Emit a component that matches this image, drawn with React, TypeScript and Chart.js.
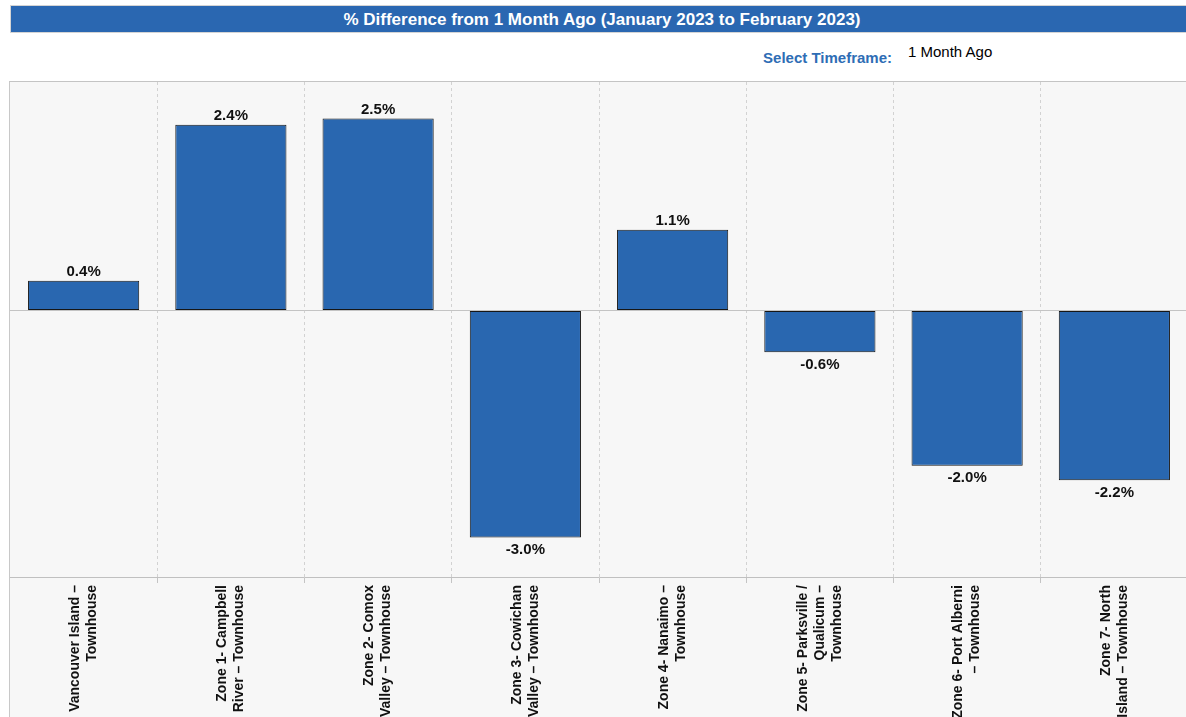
import React, { useEffect, useRef } from "react";
import { Chart, registerables } from "chart.js";

Chart.register(...registerables);

const categories: string[][] = [
  ["Vancouver Island –", "Townhouse"],
  ["Zone 1- Campbell", "River – Townhouse"],
  ["Zone 2- Comox", "Valley – Townhouse"],
  ["Zone 3- Cowichan", "Valley – Townhouse"],
  ["Zone 4- Nanaimo –", "Townhouse"],
  ["Zone 5- Parksville /", "Qualicum –", "Townhouse"],
  ["Zone 6- Port Alberni", "– Townhouse"],
  ["Zone 7- North", "Island – Townhouse"],
];

const values: number[] = [0.39, 2.44, 2.52, -2.98, 1.06, -0.55, -2.04, -2.23];

const titleText = "% Difference from 1 Month Ago (January 2023 to February 2023)";
const selectLabel = "Select Timeframe:";
const selectValue = "1 Month Ago";

const FONT = '"Liberation Sans", Arial, Helvetica, sans-serif';

const labelPlugin = {
  id: "customLabels",
  afterDatasetsDraw(chart: any) {
    const ctx = chart.ctx;
    const meta = chart.getDatasetMeta(0);
    ctx.save();
    ctx.font = `bold 15px ${FONT}`;
    ctx.fillStyle = "#111";
    ctx.textAlign = "center";
    meta.data.forEach((bar: any, i: number) => {
      const v = values[i];
      const txt = v.toFixed(1) + "%";
      if (v >= 0) {
        ctx.textBaseline = "alphabetic";
        ctx.fillText(txt, bar.x, bar.y - 5);
      } else {
        ctx.textBaseline = "top";
        ctx.fillText(txt, bar.x, bar.y + 5);
      }
    });
    const xs = chart.scales.x;
    ctx.font = `bold 14px ${FONT}`;
    ctx.textAlign = "right";
    ctx.textBaseline = "middle";
    categories.forEach((lines, i) => {
      const x = xs.getPixelForValue(i);
      lines.forEach((line, j) => {
        const off = (j - (lines.length - 1) / 2) * 17;
        ctx.save();
        ctx.translate(x + off, xs.top + 8);
        ctx.rotate(-Math.PI / 2);
        ctx.fillText(line, 0, 0);
        ctx.restore();
      });
    });
    ctx.restore();
  },
};

export default function App() {
  const ref = useRef<HTMLCanvasElement | null>(null);

  useEffect(() => {
    if (!ref.current) return;
    const chart = new Chart(ref.current, {
      type: "bar",
      data: {
        labels: categories.map((c) => c.join(" ")),
        datasets: [
          {
            data: values,
            backgroundColor: "#2967b0",
            borderColor: "#161616",
            borderWidth: 1,
            borderSkipped: false,
            categoryPercentage: 1,
            barPercentage: 0.755,
          },
        ],
      },
      options: {
        animation: false,
        responsive: false,
        maintainAspectRatio: false,
        layout: { padding: 0 },
        plugins: {
          legend: { display: false },
          tooltip: { enabled: false },
          title: { display: false },
        },
        scales: {
          x: {
            offset: true,
            grid: {
              offset: true,
              color: (c: any) => (c.index === 0 ? "rgba(0,0,0,0)" : "#d2d2d2"),
              tickLength: 6,
              tickColor: (c: any) => (c.index === 0 ? "rgba(0,0,0,0)" : "#c4c4c4"),
              tickBorderDash: [],
              drawTicks: true,
            },
            border: { display: true, color: "#c0c0c0", width: 1, dash: [3, 3] },
            ticks: { display: false },
            afterFit: (s: any) => {
              s.height = 140;
            },
          },
          y: {
            min: -3.5,
            max: 3,
            ticks: { display: false, stepSize: 0.5 },
            border: { display: false },
            grid: {
              drawTicks: false,
              color: (c: any) => (c.tick && c.tick.value === 0 ? "#c4c4c4" : "rgba(0,0,0,0)"),
            },
            afterFit: (s: any) => {
              s.width = 0;
            },
          },
        },
      },
      plugins: [labelPlugin],
    });
    return () => chart.destroy();
  }, []);

  return (
    <div
      style={{
        position: "fixed",
        left: 0,
        top: 0,
        width: 1186,
        height: 717,
        overflow: "hidden",
        background: "#ffffff",
        fontFamily: FONT,
      }}
    >
      <div
        style={{
          position: "absolute",
          left: 10,
          top: 5,
          width: 1182,
          height: 26,
          background: "#2a67b1",
          border: "1px solid #d4d4d4",
          color: "#ffffff",
          fontWeight: "bold",
          fontSize: 17,
          lineHeight: "27px",
          textAlign: "center",
          whiteSpace: "nowrap",
        }}
      >
        {titleText}
      </div>
      <div
        style={{
          position: "absolute",
          right: 1186 - 892,
          top: 49,
          fontSize: 15,
          fontWeight: "bold",
          color: "#2e6db5",
          whiteSpace: "nowrap",
        }}
      >
        {selectLabel}
      </div>
      <div
        style={{
          position: "absolute",
          left: 908,
          top: 43,
          fontSize: 15,
          color: "#000",
          whiteSpace: "nowrap",
        }}
      >
        {selectValue}
      </div>
      <div
        style={{
          position: "absolute",
          left: 9,
          top: 81,
          width: 1180,
          height: 640,
          background: "#f7f7f7",
          borderTop: "1px solid #c4c4c4",
          borderLeft: "1px solid #c8c8c8",
        }}
      >
        <canvas ref={ref} width={1178} height={635} style={{ display: "block", width: 1178, height: 635 }} />
      </div>
    </div>
  );
}
